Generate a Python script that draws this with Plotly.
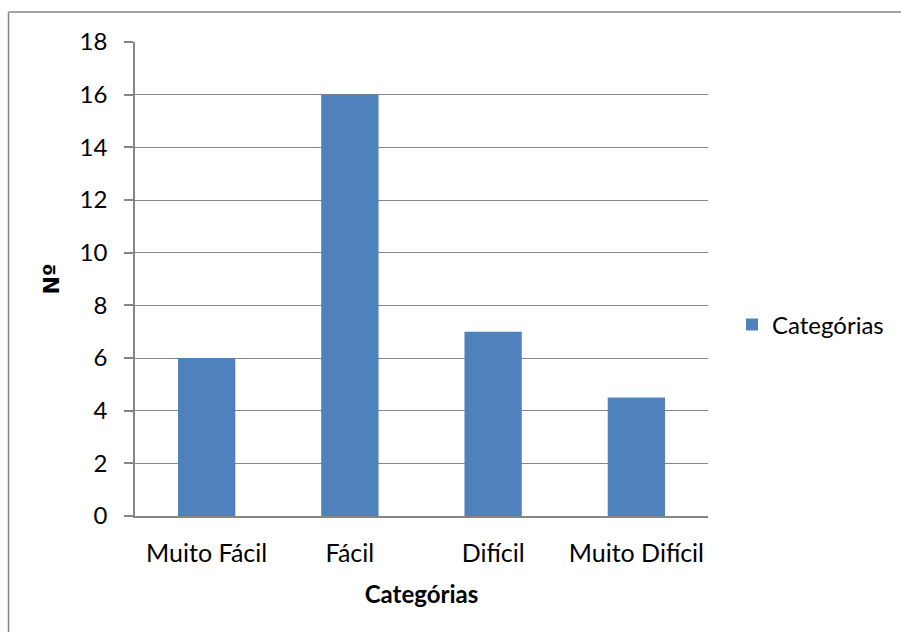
import plotly.graph_objects as go

categories = ["Muito Fácil", "Fácil", "Difícil", "Muito Difícil"]
values = [6, 16, 7, 4.5]
series_name = "Categórias"
y_tick_vals = [0, 2, 4, 6, 8, 10, 12, 14, 16, 18]

W, H = 901, 632
L, R, T, B = 135, 708, 42, 516

def px_x(px):
    return (px - L) / (R - L)

def px_y(py):
    return (B - py) / (B - T)

grey = "#868686"
font_family = "Lato, 'Open Sans', sans-serif"
FS = 24

fig = go.Figure()
fig.add_trace(go.Bar(
    x=categories, y=values, name=series_name,
    marker=dict(color="#4F81BD", line=dict(width=0)),
    showlegend=True,
))

fig.update_layout(
    width=W, height=H,
    margin=dict(l=L, r=W - R, t=T, b=H - B),
    paper_bgcolor="white", plot_bgcolor="white",
    font=dict(family=font_family, size=FS, color="black"),
    bargap=0.6,
    showlegend=True,
    legend=dict(x=px_x(732), y=px_y(325), xanchor="left", yanchor="middle",
                font=dict(size=FS), bgcolor="rgba(0,0,0,0)"),
    xaxis=dict(
        showline=True, linecolor=grey, linewidth=1.5,
        showgrid=False, ticks="", tickfont=dict(size=25),
        ticklabelstandoff=14,
        title=dict(text="<b>Categórias</b>", font=dict(size=FS), standoff=20),
    ),
    yaxis=dict(
        range=[0, 18], tickvals=y_tick_vals,
        showline=True, linecolor=grey, linewidth=1.5,
        showgrid=True, gridcolor=grey, gridwidth=1,
        zeroline=False,
        ticks="outside", ticklen=9, tickcolor=grey, tickwidth=1.5,
        tickfont=dict(size=FS), ticklabelstandoff=12,
        title=dict(text="<b>Nº</b>", font=dict(size=22, family="'DejaVu Sans', sans-serif"), standoff=14),
    ),
    shapes=[
        dict(type="line", xref="paper", yref="paper",
             x0=px_x(8.5), x1=px_x(8.5), y0=px_y(12), y1=px_y(640),
             line=dict(color=grey, width=1.5)),
        dict(type="line", xref="paper", yref="paper",
             x0=px_x(8.5), x1=px_x(910), y0=px_y(12), y1=px_y(12),
             line=dict(color=grey, width=1.5)),
    ],
)

fig.write_html("out.html", config={"displayModeBar": False},
               post_script="document.body.style.margin='0';")
